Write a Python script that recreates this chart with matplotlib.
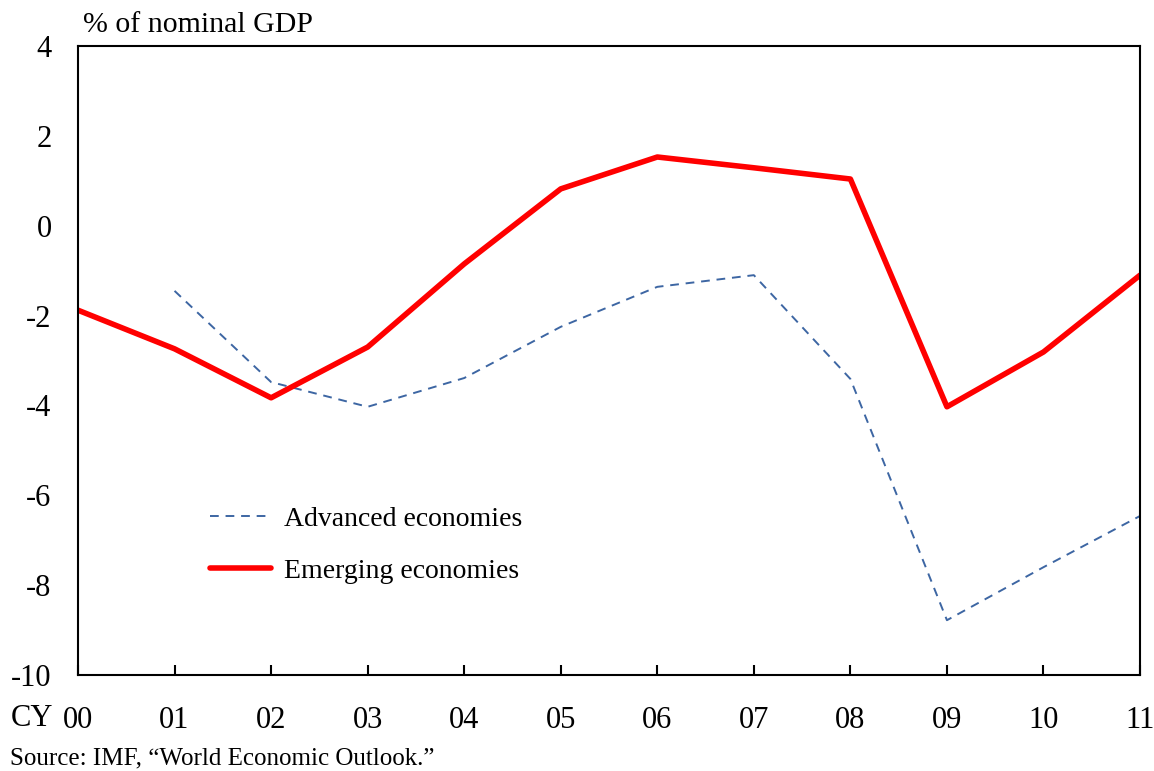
import matplotlib
matplotlib.use("Agg")
import matplotlib.pyplot as plt
import numpy as np

years = ["00", "01", "02", "03", "04", "05", "06", "07", "08", "09", "10", "11"]
advanced = [np.nan, -1.45, -3.48, -4.03, -3.39, -2.25, -1.36, -1.10, -3.41, -8.78, -7.6, -6.46]
emerging = [-1.88, -2.74, -3.83, -2.70, -0.85, 0.82, 1.53, 1.29, 1.04, -4.03, -2.81, -1.10]
yticks = [4, 2, 0, -2, -4, -6, -8, -10]

plt.rcParams['font.family'] = ['Liberation Serif', 'DejaVu Serif']
fig = plt.figure(figsize=(11.54, 7.71), dpi=100)
ax = fig.add_axes([0.0676, 0.1245, 0.9203, 0.8158])
x = np.arange(len(years))
ax.plot(x, advanced, color='#3d66a3', lw=1.4, ls=(0, (4.5, 3.5)), label='Advanced economies')
ax.plot(x, emerging, color='#ff0000', lw=4, label='Emerging economies', solid_capstyle='round')
ax.set_xlim(0, 11)
ax.set_ylim(-10, 4)
ax.set_yticks(yticks)
ax.set_yticklabels([str(v) for v in yticks], fontsize=22)
ax.set_xticks(x)
ax.set_xticklabels(years, fontsize=22)
ax.tick_params(axis='x', direction='in', length=7, width=1.5, pad=22)
ax.tick_params(axis='y', direction='in', length=0, pad=19)
for s in ax.spines.values():
    s.set_linewidth(1.5)
    s.set_color('black')
fig.text(0.009, 0.068, 'CY', fontsize=22, va='center', ha='left')
fig.text(0.072, 0.967, '% of nominal GDP', fontsize=21.5, va='center', ha='left')
fig.text(0.009, 0.016, 'Source: IMF, \u201cWorld Economic Outlook.\u201d', fontsize=18, va='center', ha='left')
leg = ax.legend(loc='lower left', bbox_to_anchor=(0.114, 0.127), frameon=False, fontsize=20,
                handlelength=2.2, labelspacing=0.96, handletextpad=0.45, borderaxespad=0)
fig.savefig('out.png', dpi=100)
